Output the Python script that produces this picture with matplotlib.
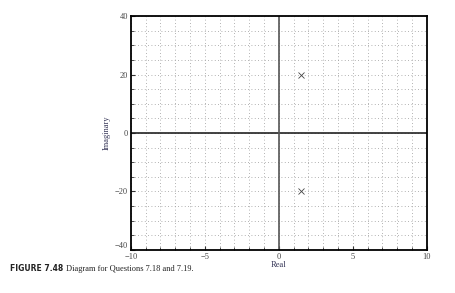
import numpy as np
import matplotlib.pyplot as plt
from matplotlib.ticker import MultipleLocator

# pole locations
pole_re = [1.5, 1.5]
pole_im = [20, -20]

x_ticks = [-10, -5, 0, 5, 10]
y_ticks = [-40, -20, 0, 20, 40]

plt.rcParams['font.family'] = ['Liberation Serif', 'DejaVu Serif']

fig = plt.figure(figsize=(4.56, 2.93), dpi=100)
ax = fig.add_axes([0.287, 0.147, 0.649, 0.798])

ax.set_xlim(-10, 10)
ax.set_ylim(-40, 40)
ax.set_xticks(x_ticks)
ax.set_yticks(y_ticks)
ax.set_xticklabels(['\u221210', '\u22125', '0', '5', '10'])
ax.set_yticklabels(['\u221240', '\u221220', '0', '20', '40'])
ax.xaxis.set_minor_locator(MultipleLocator(1))
ax.yaxis.set_minor_locator(MultipleLocator(5))
ax.tick_params(which='both', direction='in', labelsize=6, color='#333333',
               labelcolor='#444444')
ax.tick_params(axis='x', pad=2.5)
ax.tick_params(axis='y', pad=2)
ax.tick_params(which='major', length=3)
ax.tick_params(which='minor', length=2)
ax.grid(which='both', linestyle=(0, (1, 3)), linewidth=0.6, color='#999999')

# nudge the -40 label up a bit so it clears the -10 label
ax.get_yticklabels()[0].set_verticalalignment('bottom')

ax.axhline(0, color='#222222', linewidth=1.2)
ax.axvline(0, color='#555555', linewidth=1.2)

ax.plot(pole_re, pole_im, linestyle='none', marker='x', color='#444444',
        markersize=4, markeredgewidth=0.6)

for s in ax.spines.values():
    s.set_linewidth(1.3)

ax.set_xlabel('Real', fontsize=6, labelpad=0, color='#333355')
ax.set_ylabel('Imaginary', fontsize=6, labelpad=3, color='#333355')

fig.text(0.022, 0.083, 'FIGURE 7.48', fontsize=5.5, weight='bold',
         family='DejaVu Sans', color='#222222', va='center')
fig.text(0.145, 0.083, 'Diagram for Questions 7.18 and 7.19.', fontsize=6,
         color='#222222', va='center')

plt.savefig('out.png', dpi=100)
